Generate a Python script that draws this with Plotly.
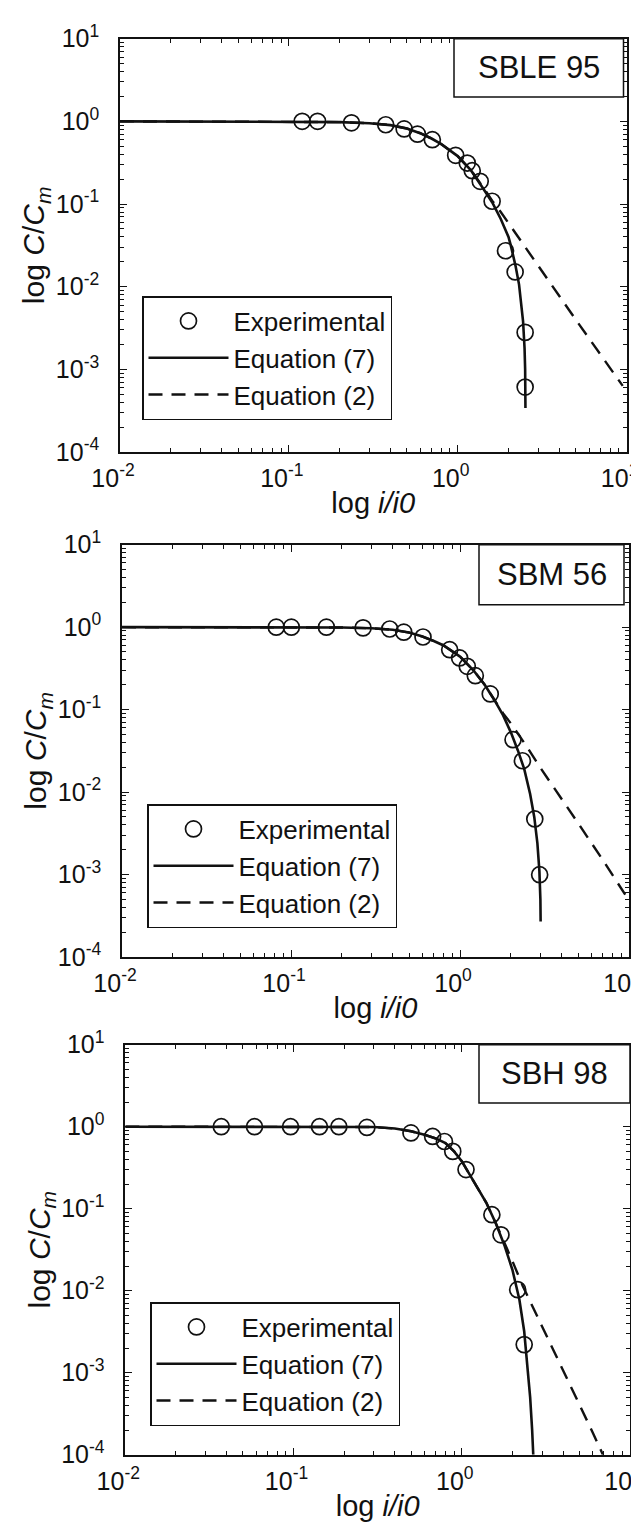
import plotly.graph_objects as go

# ---------------- data ----------------
# Panel 1 : SBLE 95
p1_label = "SBLE 95"
p1_exp_x = [0.12, 0.148, 0.235, 0.375, 0.482, 0.578, 0.708, 0.973, 1.14, 1.22, 1.36, 1.60, 1.92, 2.19, 2.51, 2.51]
p1_exp_y = [1.0, 1.0, 0.96, 0.91, 0.81, 0.70, 0.60, 0.388, 0.313, 0.253, 0.188, 0.108, 0.0272, 0.0151, 0.0028, 0.00061]
p1_eq7_x = [0.01, 0.1, 0.2, 0.3, 0.4, 0.5, 0.6, 0.7, 0.8, 1.0, 1.2, 1.4, 1.6, 1.8, 2.0, 2.06, 2.2, 2.31, 2.44, 2.49, 2.51, 2.52]
p1_eq7_y = [1.0, 1.0, 0.98, 0.95, 0.9, 0.82, 0.72, 0.62, 0.53, 0.38, 0.255, 0.16, 0.105, 0.066, 0.04, 0.032, 0.018, 0.0106, 0.0038, 0.0018, 0.001, 0.00034]
p1_eq2_x = [0.01, 0.1, 0.2, 0.3, 0.4, 0.5, 0.6, 0.7, 0.8, 1.0, 1.2, 1.4, 1.6, 1.8, 2.0, 2.5, 3.0, 4.0, 5.0, 7.0, 9.5]
p1_eq2_y = [1.0, 1.0, 0.98, 0.95, 0.9, 0.82, 0.72, 0.62, 0.53, 0.38, 0.255, 0.165, 0.11, 0.08, 0.059, 0.031, 0.018, 0.0077, 0.0040, 0.0015, 0.00063]

# Panel 2 : SBM 56
p2_label = "SBM 56"
p2_exp_x = [0.0818, 0.1005, 0.162, 0.267, 0.384, 0.465, 0.604, 0.869, 0.995, 1.104, 1.232, 1.51, 2.06, 2.34, 2.77, 2.96]
p2_exp_y = [1.0, 1.0, 1.0, 0.98, 0.95, 0.87, 0.76, 0.533, 0.423, 0.335, 0.258, 0.155, 0.0432, 0.024, 0.00472, 0.000995]
p2_eq7_x = [0.01, 0.1, 0.2, 0.3, 0.4, 0.5, 0.6, 0.7, 0.8, 1.0, 1.2, 1.4, 1.6, 1.8, 2.0, 2.2, 2.4, 2.6, 2.75, 2.87, 2.95, 2.99, 3.0]
p2_eq7_y = [1.0, 1.0, 0.99, 0.97, 0.93, 0.86, 0.77, 0.68, 0.6, 0.44, 0.3, 0.2, 0.13, 0.085, 0.053, 0.032, 0.019, 0.0095, 0.005, 0.0024, 0.0011, 0.0005, 0.00027]
p2_eq2_x = [0.01, 0.1, 0.2, 0.3, 0.4, 0.5, 0.6, 0.7, 0.8, 1.0, 1.2, 1.4, 1.6, 1.8, 2.0, 2.5, 3.0, 4.0, 5.0, 7.0, 9.5]
p2_eq2_y = [1.0, 1.0, 0.99, 0.97, 0.93, 0.86, 0.77, 0.68, 0.6, 0.44, 0.3, 0.2, 0.13, 0.09, 0.068, 0.035, 0.0195, 0.0083, 0.0042, 0.0015, 0.00057]

# Panel 3 : SBH 98
p3_label = "SBH 98"
p3_exp_x = [0.0372, 0.0586, 0.096, 0.1426, 0.186, 0.273, 0.499, 0.671, 0.789, 0.884, 1.06, 1.51, 1.71, 2.15, 2.35]
p3_exp_y = [1.0, 1.0, 1.0, 1.0, 1.0, 0.98, 0.84, 0.76, 0.66, 0.50, 0.30, 0.0845, 0.048, 0.0103, 0.0022]
p3_eq7_x = [0.01, 0.1, 0.2, 0.3, 0.4, 0.5, 0.6, 0.7, 0.8, 0.9, 1.0, 1.06, 1.2, 1.4, 1.6, 1.8, 2.0, 2.2, 2.35, 2.45, 2.55, 2.62, 2.66]
p3_eq7_y = [1.0, 1.0, 1.0, 0.99, 0.95, 0.88, 0.8, 0.72, 0.63, 0.5, 0.38, 0.31, 0.205, 0.118, 0.065, 0.035, 0.018, 0.0078, 0.0032, 0.0013, 0.0005, 0.0002, 0.0001]
p3_eq2_x = [0.01, 0.1, 0.2, 0.3, 0.4, 0.5, 0.6, 0.7, 0.8, 0.9, 1.0, 1.06, 1.2, 1.4, 1.6, 1.8, 2.0, 2.3, 3.0, 4.0, 5.0, 6.0, 6.9]
p3_eq2_y = [1.0, 1.0, 1.0, 0.99, 0.95, 0.88, 0.8, 0.72, 0.63, 0.5, 0.38, 0.31, 0.205, 0.118, 0.065, 0.038, 0.023, 0.0115, 0.0037, 0.00107, 0.00041, 0.000187, 0.0001]

x_tickvals = [0.01, 0.1, 1, 10]
x_ticktext = ["10<sup>-2</sup>", "10<sup>-1</sup>", "10<sup>0</sup>", "10<sup>1</sup>"]
y_tickvals = [1e-4, 1e-3, 1e-2, 1e-1, 1, 10]
y_ticktext = ["10<sup>-4</sup>", "10<sup>-3</sup>", "10<sup>-2</sup>", "10<sup>-1</sup>", "10<sup>0</sup>", "10<sup>1</sup>"]

names = ["Experimental", "Equation (7)", "Equation (2)"]

panels = [
    (p1_label, p1_exp_x, p1_exp_y, p1_eq7_x, p1_eq7_y, p1_eq2_x, p1_eq2_y),
    (p2_label, p2_exp_x, p2_exp_y, p2_eq7_x, p2_eq7_y, p2_eq2_x, p2_eq2_y),
    (p3_label, p3_exp_x, p3_exp_y, p3_eq7_x, p3_eq7_y, p3_eq2_x, p3_eq2_y),
]

# ---------------- layout geometry (pixels) ----------------
W, H = 639, 1527
# plot boxes: left, right, top, bottom
boxes = [(112.0, 618.5, 30.7, 444.0), (114.0, 621.0, 536.7, 949.0), (117.3, 622.0, 1036.7, 1446.7)]
# label boxes: left, right, top, bottom
label_boxes = [(446, 615.5, 30.7, 89.0), (471, 616, 536.7, 596.7), (471, 622, 1036.7, 1095)]
# legend top-left corners
legend_pos = [(134, 288), (139, 796), (142, 1294)]

def px(x):
    return x / W

def py(y):
    return 1 - y / H

FONT = "Liberation Sans, Arial, sans-serif"
INK = "#111111"

minor_x = [m * 10 ** e for e in range(-2, 1) for m in range(2, 10)]
minor_y = [m * 10 ** e for e in range(-4, 1) for m in range(2, 10)]

fig = go.Figure()

for i, (label, ex, ey, s7x, s7y, s2x, s2y) in enumerate(panels):
    k = "" if i == 0 else str(i + 1)
    xa, ya = "x" + k, "y" + k
    lg = "legend" + k
    fig.add_trace(go.Scatter(x=s2x, y=s2y, mode="lines", name=names[2], xaxis=xa, yaxis=ya,
                             line=dict(color=INK, width=2.4, dash="14px,9px"), legend=lg, legendrank=3))
    fig.add_trace(go.Scatter(x=s7x, y=s7y, mode="lines", name=names[1], xaxis=xa, yaxis=ya,
                             line=dict(color=INK, width=2.6), legend=lg, legendrank=2))
    fig.add_trace(go.Scatter(x=ex, y=ey, mode="markers", name=names[0], xaxis=xa, yaxis=ya,
                             marker=dict(symbol="circle-open", size=16, color=INK, line=dict(width=1.7, color=INK)),
                             legend=lg, legendrank=1))

    l, r, t, b = boxes[i]
    common = dict(type="log", showline=True, linecolor=INK, linewidth=1.6, mirror="allticks",
                  ticks="inside", ticklen=7, tickwidth=1.3, tickcolor=INK, showgrid=False, zeroline=False,
                  tickfont=dict(family=FONT, size=25, color=INK), tickmode="array", automargin=False,
                  ticklabeloverflow="allow")
    fig.layout["xaxis" + k] = dict(common, domain=[px(l), px(r)], range=[-2, 1], anchor=ya,
                                   tickvals=x_tickvals, ticktext=x_ticktext, ticklabelstandoff=3,
                                   ticklabelshift=-7,
                                   minor=dict(ticks="inside", ticklen=4, tickwidth=1, tickcolor=INK,
                                              tickmode="array", tickvals=minor_x, showgrid=False),
                                   title=dict(text="log <i>i/i0</i>", font=dict(family=FONT, size=29, color=INK), standoff=2))
    fig.layout["yaxis" + k] = dict(common, domain=[py(b), py(t)], range=[-4, 1], anchor=xa,
                                   tickvals=y_tickvals, ticktext=y_ticktext, ticklabelstandoff=14,
                                   minor=dict(ticks="inside", ticklen=4, tickwidth=1, tickcolor=INK,
                                              tickmode="array", tickvals=minor_y, showgrid=False),
                                   title=dict(text="log <i>C</i>/<i>C</i><sub><i>m</i></sub>",
                                              font=dict(family=FONT, size=30, color=INK), standoff=2))

    lx, ly = legend_pos[i]
    fig.layout[lg] = dict(x=px(lx), y=py(ly), xanchor="left", yanchor="top", xref="paper", yref="paper",
                          bgcolor="white", bordercolor=INK, borderwidth=1.5, itemwidth=80,
                          font=dict(family=FONT, size=26, color=INK), traceorder="normal")

    bl, br, bt, bb = label_boxes[i]
    fig.add_shape(type="rect", xref="paper", yref="paper", x0=px(bl), x1=px(br), y0=py(bb), y1=py(bt),
                  line=dict(color=INK, width=1.5), fillcolor="white", layer="above")
    fig.add_annotation(xref="paper", yref="paper", x=px((bl + br) / 2), y=py((bt + bb) / 2),
                       text=label, showarrow=False, xanchor="center", yanchor="middle",
                       font=dict(family=FONT, size=31, color=INK))

fig.update_layout(width=W, height=H, margin=dict(l=0, r=0, t=0, b=0, autoexpand=False),
                  paper_bgcolor="white", plot_bgcolor="white", showlegend=True)

fig.write_html("out.html")
